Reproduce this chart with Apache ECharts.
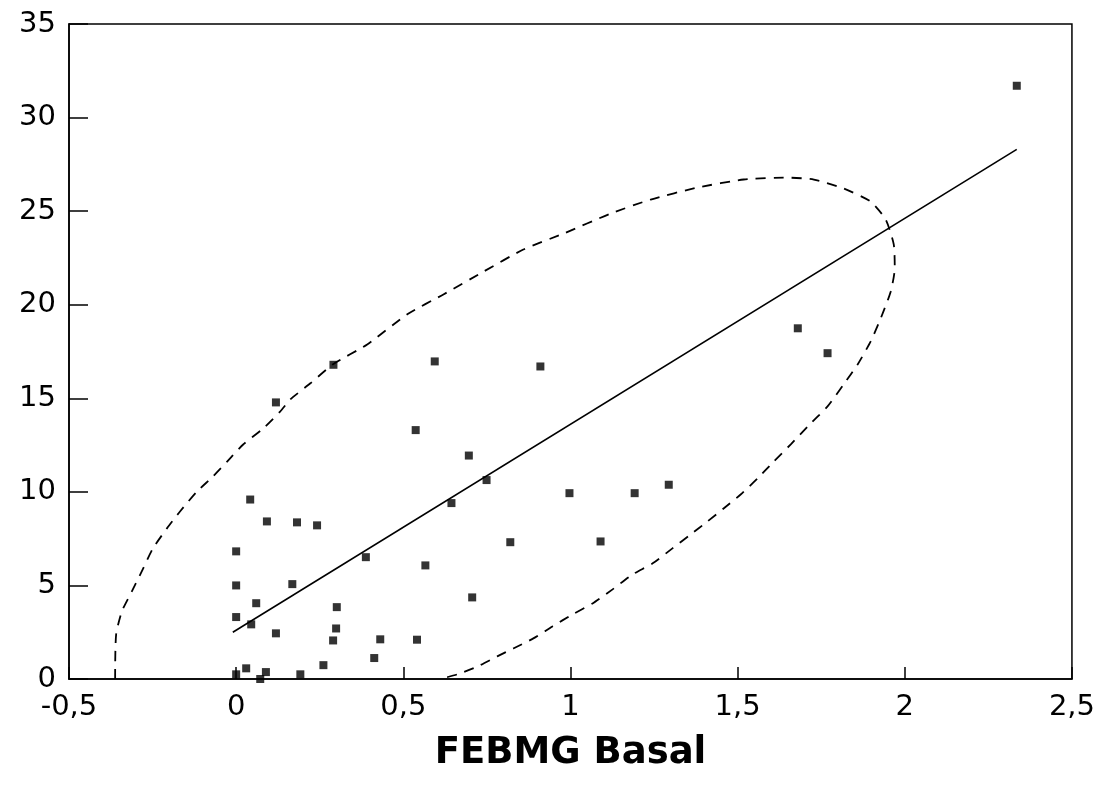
<!DOCTYPE html>
<html>
<head>
<meta charset="utf-8">
<script src="https://cdn.jsdelivr.net/npm/echarts@6/dist/echarts.min.js"></script>
<style>
  html, body { margin: 0; padding: 0; background: #fff; }
  #chart { width: 1098px; height: 790px; }
</style>
</head>
<body>
<div id="chart"></div>
<script>
// FEBMG basal (x) vs response (y)
const pointsX = [
  2.335, 1.68, 1.769, 0.119, 0.291, 0.594, 0.91, 0.537, 0.696, 0.749,
  0.644, 0.997, 1.192, 1.294, 1.09, 0.82, 0.042, 0.092, 0.182, 0.242,
  0.0, 0.388, 0.566, 0.0, 0.168, 0.06, 0.301, 0.706, 0.0, 0.045,
  0.119, 0.299, 0.29, 0.431, 0.541, 0.413, 0.261, 0.192, 0.0, 0.03,
  0.089, 0.072
];
const pointsY = [
  31.7, 18.74, 17.41, 14.78, 16.79, 16.97, 16.7, 13.3, 11.94, 10.63,
  9.4, 9.93, 9.93, 10.38, 7.35, 7.31, 9.59, 8.42, 8.37, 8.21,
  6.82, 6.51, 6.07, 5.0, 5.07, 4.05, 3.84, 4.36, 3.31, 2.92,
  2.44, 2.7, 2.06, 2.12, 2.1, 1.12, 0.74, 0.25, 0.25, 0.57,
  0.37, 0.0
];

// regression line end points
const fitX = [-0.01, 2.335];
const fitY = [2.5, 28.3];

// dashed ellipse
const ellipseX = [
  -0.362, -0.362, -0.359, -0.342, -0.312, -0.278, -0.249, -0.207, -0.168, -0.117,
  -0.069, -0.027, 0.021, 0.081, 0.132, 0.162, 0.222, 0.29, 0.392, 0.512,
  0.62, 0.74, 0.859, 0.979, 1.12, 1.24, 1.38, 1.518, 1.65, 1.728,
  1.817, 1.898, 1.943, 1.967, 1.97, 1.958, 1.928, 1.898, 1.859, 1.817,
  1.769, 1.71, 1.659, 1.608, 1.56, 1.509, 1.458, 1.41, 1.359, 1.305,
  1.246, 1.186, 1.126, 1.066, 1.006, 0.946, 0.889, 0.829, 0.781, 0.722,
  0.662, 0.611
];
const ellipseY = [
  0, 0.25, 2.38, 3.61, 4.68, 5.91, 6.98, 8.05, 8.95, 10.02,
  10.83, 11.62, 12.53, 13.39, 14.3, 14.94, 15.8, 16.82, 17.88, 19.49,
  20.55, 21.77, 22.95, 23.8, 24.87, 25.62, 26.26, 26.69, 26.79, 26.69,
  26.21, 25.51, 24.55, 23.22, 21.93, 20.71, 19.27, 18.04, 16.81, 15.74,
  14.57, 13.5, 12.54, 11.62, 10.72, 9.86, 9.11, 8.42, 7.72, 6.98,
  6.18, 5.59, 4.79, 4.04, 3.45, 2.81, 2.17, 1.63, 1.21, 0.67,
  0.25, 0
];

const xTicks = [-0.5, 0, 0.5, 1, 1.5, 2, 2.5];
const xTickLabels = ["-0,5", "0", "0,5", "1", "1,5", "2", "2,5"];
const yTickLabels = ["0", "5", "10", "15", "20", "25", "30", "35"];
const xTitle = "FEBMG Basal";

const zip = (a, b) => a.map((v, i) => [v, b[i]]);

const chart = echarts.init(document.getElementById("chart"));
chart.setOption({
  backgroundColor: "#fff",
  animation: false,
  grid: {
    left: 69,
    right: 25,
    top: 24,
    bottom: 111,
    show: true,
    borderColor: "#000",
    borderWidth: 1.5,
  },
  xAxis: {
    type: "value",
    min: -0.5,
    max: 2.5,
    interval: 0.5,
    name: xTitle,
    nameLocation: "middle",
    nameGap: 56,
    nameTextStyle: {
      fontFamily: "DejaVu Sans",
      fontWeight: "bold",
      fontSize: 37,
      color: "#000",
    },
    axisLine: { onZero: false, lineStyle: { color: "#000", width: 1.5 } },
    axisTick: { inside: true, length: 12, lineStyle: { color: "#000", width: 1.5 } },
    axisLabel: {
      fontFamily: "DejaVu Sans",
      fontSize: 29,
      color: "#000",
      margin: 14,
      formatter: (v) => {
        const i = xTicks.findIndex((t) => Math.abs(t - v) < 1e-9);
        return i >= 0 ? xTickLabels[i] : "";
      },
    },
    splitLine: { show: false },
  },
  yAxis: {
    type: "value",
    min: 0,
    max: 35,
    interval: 5,
    axisLine: { onZero: false, lineStyle: { color: "#000", width: 1.5 } },
    axisTick: { inside: true, length: 19, lineStyle: { color: "#000", width: 1.5 } },
    axisLabel: {
      fontFamily: "DejaVu Sans",
      fontSize: 29,
      color: "#000",
      margin: 13,
      formatter: (v) => yTickLabels[Math.round(v / 5)],
    },
    splitLine: { show: false },
  },
  series: [
    {
      type: "line",
      data: zip(ellipseX, ellipseY),
      smooth: 0.2,
      showSymbol: false,
      symbol: "none",
      lineStyle: { color: "#000", width: 1.8, type: [10, 8] },
      z: 1,
    },
    {
      type: "line",
      data: zip(fitX, fitY),
      showSymbol: false,
      symbol: "none",
      lineStyle: { color: "#000", width: 1.6 },
      z: 2,
    },
    {
      type: "scatter",
      data: zip(pointsX, pointsY),
      symbol: "rect",
      symbolSize: 8,
      itemStyle: { color: "#000" },
      z: 3,
    },
  ],
});
</script>
</body>
</html>
